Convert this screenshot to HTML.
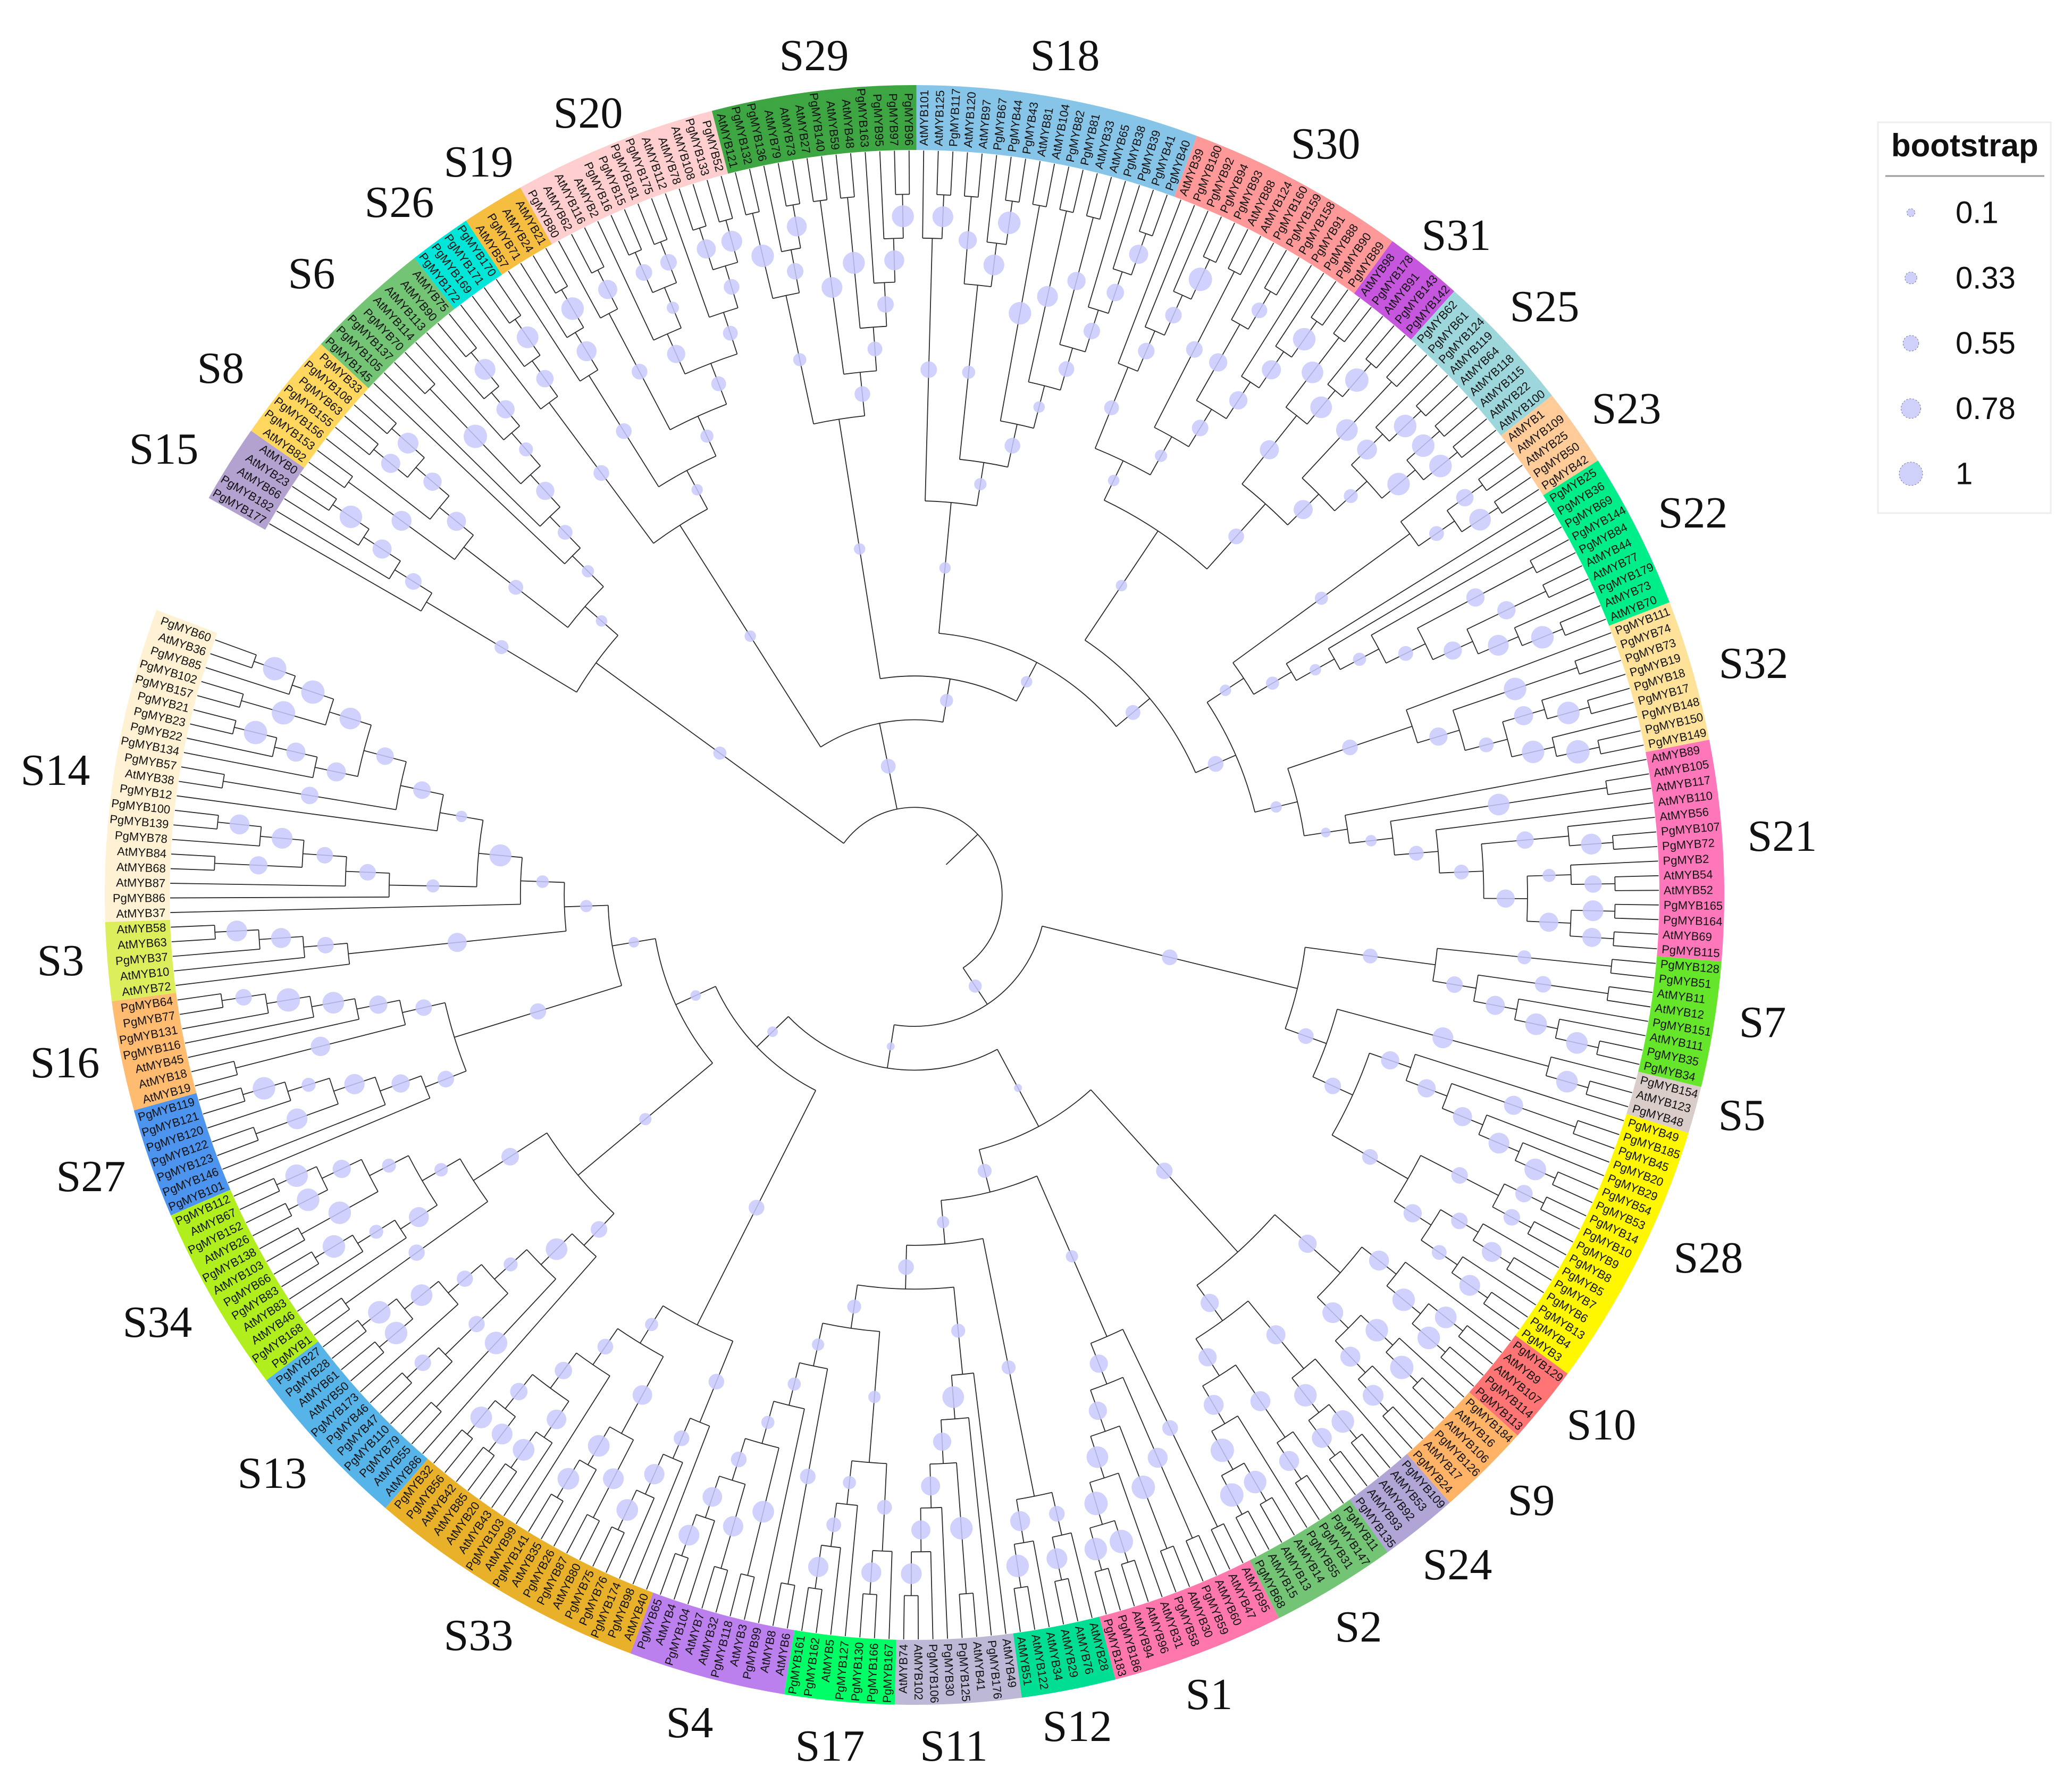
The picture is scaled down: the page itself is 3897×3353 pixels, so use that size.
<!DOCTYPE html>
<html lang="en">
<head>
<meta charset="utf-8">
<title>MYB circular phylogenetic tree</title>
<style>
html,body{margin:0;padding:0;background:#fff;}
svg{display:block;}
.tip{font-family:"Liberation Sans",sans-serif;font-size:22px;fill:#111;}
.clade{font-family:"Liberation Serif",serif;font-size:84px;fill:#111;text-anchor:middle;}
.lg{font-family:"Liberation Sans",sans-serif;font-size:58px;fill:#111;}
</style>
</head>
<body>
<svg id="chart" xmlns="http://www.w3.org/2000/svg" width="3897" height="3353" viewBox="0 0 3897 3353">
<rect x="0" y="0" width="3897" height="3353" fill="#ffffff"/>
<g id="bands"></g>
<g id="tips"></g>
<g id="branches"></g>
<g id="markers"></g>

<g>
<text class="clade" x="1531" y="132">S29</text>
<text class="clade" x="2003" y="132">S18</text>
<text class="clade" x="2493" y="298">S30</text>
<text class="clade" x="2739" y="470">S31</text>
<text class="clade" x="2905" y="604">S25</text>
<text class="clade" x="3059" y="796">S23</text>
<text class="clade" x="3184" y="992">S22</text>
<text class="clade" x="3298" y="1275">S32</text>
<text class="clade" x="3352" y="1600">S21</text>
<text class="clade" x="3315" y="1950">S7</text>
<text class="clade" x="3276" y="2125">S5</text>
<text class="clade" x="3213" y="2393">S28</text>
<text class="clade" x="3012" y="2707">S10</text>
<text class="clade" x="2880" y="2849">S9</text>
<text class="clade" x="2741" y="2970">S24</text>
<text class="clade" x="2555" y="3087">S2</text>
<text class="clade" x="2274" y="3214">S1</text>
<text class="clade" x="2026" y="3274">S12</text>
<text class="clade" x="1794" y="3311">S11</text>
<text class="clade" x="1561" y="3311">S17</text>
<text class="clade" x="1297" y="3267">S4</text>
<text class="clade" x="900" y="3103">S33</text>
<text class="clade" x="512" y="2798">S13</text>
<text class="clade" x="296" y="2514">S34</text>
<text class="clade" x="171" y="2240">S27</text>
<text class="clade" x="122" y="2026">S16</text>
<text class="clade" x="114" y="1834">S3</text>
<text class="clade" x="104" y="1476">S14</text>
<text class="clade" x="308" y="872">S15</text>
<text class="clade" x="415" y="720">S8</text>
<text class="clade" x="586" y="542">S6</text>
<text class="clade" x="751" y="408">S26</text>
<text class="clade" x="900" y="332">S19</text>
<text class="clade" x="1106" y="240">S20</text>
</g>

<g>
<rect x="3532" y="230" width="325" height="735" fill="#ffffff" stroke="#eeeeee" stroke-width="3"/>
<text x="3557" y="294" font-family="'Liberation Sans',sans-serif" font-weight="bold" font-size="60" fill="#111">bootstrap</text>
<line x1="3546" y1="331" x2="3845" y2="331" stroke="#999999" stroke-width="3"/>
<g id="legend-items"></g>
</g>
</svg>

<script>
// ---- Tree data: each internal node is [child, child, bootstrap], children in clockwise order ----
const cS15 = ['PgMYB177',['PgMYB182',['AtMYB66',['AtMYB23','AtMYB0',0.95],0.75],0.6],0.45];
const cS8 = [['AtMYB82','PgMYB153',0.8],['PgMYB156',[['PgMYB155','PgMYB63',0.75],['PgMYB108','PgMYB33',0.85],0.7],0.75],0.5];
const cS6 = ['PgMYB145',['PgMYB105',[['PgMYB137','PgMYB70',1],['AtMYB114',['AtMYB113',['AtMYB90','AtMYB75',0.85],0.7],0.45],0.7],0.5],0.35];
const cS26 = ['PgMYB172',['PgMYB169',['PgMYB171','PgMYB170',0.9],0.65],0.55];
const cS19 = ['AtMYB57',['PgMYB71',['AtMYB24','AtMYB21',0.95],0.8],0.55];
const cS20 = [['PgMYB80',['AtMYB62','AtMYB116',0.75],0.55],[['AtMYB2',[['PgMYB16','PgMYB15',0.6],['PgMYB181','PgMYB175',0.6],0.35],0.7],['AtMYB112',[['AtMYB78','AtMYB108',0.75],['PgMYB133','PgMYB52',0.85],0.55],0.5],0.5],0.4];
const cS29 = [[['AtMYB121','PgMYB132',0.95],['PgMYB136',['AtMYB79','AtMYB73',0.8],0.6],0.4],[['AtMYB27','PgMYB140',0.85],[['AtMYB59','AtMYB48',0.92],['PgMYB163',['PgMYB95',['PgMYB97','PgMYB96',0.92],0.8],0.6],0.5],0.55],0.3];
const cS18 = [['AtMYB101',['AtMYB125','PgMYB117',0.85],0.6],[[['AtMYB120','AtMYB97',0.7],['PgMYB67',['PgMYB44','PgMYB43',0.95],0.85],0.4],[['AtMYB81','AtMYB104',0.95],[['PgMYB82','PgMYB81',0.85],[['AtMYB33','AtMYB65',0.7],['PgMYB38',['PgMYB39',['PgMYB41','PgMYB40',0.75],0.65],0.6],0.55],0.3],0.55],0.35],0.3];
const cS30 = [['AtMYB39',['PgMYB180',['PgMYB92',['PgMYB94','PgMYB93',1],0.6],0.6],0.5],[['AtMYB88','AtMYB124',0.6],[['PgMYB160',['PgMYB159','PgMYB158',0.55],0.7],['PgMYB91',['PgMYB88',['PgMYB90','PgMYB89',0.95],0.75],0.7],0.6],0.35],0.3];
const cS31 = [['AtMYB98','PgMYB178',0.9],['AtMYB91',['PgMYB143','PgMYB142',1],0.9],0.75];
const cS25 = [['PgMYB62','PgMYB61',0.9],[['PgMYB124',['AtMYB119','AtMYB64',0.95],0.8],[['AtMYB118','AtMYB115',0.95],['AtMYB22','AtMYB100',0.95],0.95],0.45],0.75];
const cS23 = ['AtMYB1',[['AtMYB109','AtMYB25',0.65],['PgMYB50','PgMYB42',0.9],0.5],0.4];
const cS22 = ['PgMYB25',['PgMYB36',['PgMYB69',[['PgMYB144','PgMYB84',0.7],[['AtMYB44','AtMYB77',0.7],['PgMYB179',['AtMYB73','AtMYB70',0.95],0.85],0.7],0.5],0.4],0.3],0.4];
const cS32 = ['PgMYB111',[['PgMYB74','PgMYB73',0.95],[['PgMYB19',['PgMYB18','PgMYB17',0.95],0.75],['PgMYB148',['PgMYB150','PgMYB149',1],0.95],0.5],0.7],0.55];
const cS21 = ['AtMYB89',[['AtMYB105','AtMYB117',0.9],['AtMYB110',[['AtMYB56',['PgMYB107','PgMYB72',0.85],0.65],[['PgMYB2',['AtMYB54','AtMYB52',0.65],0.4],[['PgMYB165','PgMYB164',0.85],['AtMYB69','PgMYB115',0.75],0.75],0.7],0.5],0.5],0.3],0.2];
const cS7 = [['PgMYB128','PgMYB51',0.45],[['AtMYB11','AtMYB12',0.6],['PgMYB151',['AtMYB111',['PgMYB35','PgMYB34',0.9],0.9],0.75],0.6],0.5];
const cS5 = ['PgMYB154',['AtMYB123','PgMYB48',0.9],0.85];
const cS28 = [['PgMYB49',[['PgMYB185','PgMYB45',0.75],['PgMYB20',['PgMYB29',['PgMYB54','PgMYB53',0.9],0.85],0.75],0.7],0.7],[[['PgMYB14','PgMYB10',0.65],['PgMYB9','PgMYB8',0.6],0.6],[['PgMYB5',['PgMYB7','PgMYB6',0.8],0.6],['PgMYB13',['PgMYB4','PgMYB3',0.85],0.5],0.7],0.55],0.6];
const cS10 = ['PgMYB129',[['AtMYB9','AtMYB107',0.9],['PgMYB114','PgMYB113',0.95],0.95],0.8];
const cS9 = [['PgMYB184',['AtMYB16','AtMYB106',1],0.95],['PgMYB126',['AtMYB17','PgMYB24',0.85],0.8],0.85];
const cS24 = ['PgMYB109',[['AtMYB53','AtMYB92',0.95],['AtMYB93','PgMYB135',0.8],0.95],0.75];
const cS2 = [['PgMYB11',['PgMYB147','PgMYB31',0.8],0.8],['PgMYB55',[['AtMYB14','AtMYB13',0.95],['AtMYB15','PgMYB68',1],1],0.8],0.7];
const cS1 = [['AtMYB95','AtMYB47',0.55],[['AtMYB60','PgMYB59',0.8],[['AtMYB30','PgMYB58',1],['AtMYB31',[['AtMYB96','AtMYB94',1],['PgMYB186','PgMYB183',0.95],1],0.9],0.7],0.7],0.35];
const cS12 = [['AtMYB28',['AtMYB76','AtMYB29',0.85],0.55],['AtMYB34',['AtMYB122','AtMYB51',0.95],0.8],0.45];
const cS11 = ['AtMYB49',['PgMYB176',[['AtMYB41','PgMYB125',0.95],['PgMYB30',['PgMYB106',['AtMYB102','AtMYB74',0.85],0.75],0.75],0.7],0.9],0.45];
const cS17 = [['PgMYB167',['PgMYB166','PgMYB130',0.8],0.5],['PgMYB127',['AtMYB5',['PgMYB162','PgMYB161',0.82],0.5],0.4],0.35];
const cS4 = [['AtMYB6','AtMYB8',0.55],['PgMYB99',[['AtMYB3','PgMYB118',0.9],[['AtMYB32','AtMYB7',0.82],['PgMYB104',['AtMYB4','PgMYB65',0.85],0.78],0.55],0.4],0.4],0.35];
const cS33 = [['AtMYB40',['PgMYB98',['PgMYB174',['PgMYB76','PgMYB75',0.9],0.82],0.55],0.55],[[['AtMYB80','PgMYB87',0.85],['PgMYB26',['AtMYB35','PgMYB141',0.9],0.9],0.78],['AtMYB99',[['PgMYB103',['AtMYB43','AtMYB20',0.9],0.78],[['AtMYB85','AtMYB42',0.85],['PgMYB56','PgMYB32',0.9],0.65],0.65],0.55],0.4],0.55];
const cS13 = ['AtMYB86',[['AtMYB55','PgMYB79',0.95],[['PgMYB110',['PgMYB47','PgMYB46',0.6],0.58],['PgMYB173',[['AtMYB50','AtMYB61',0.95],['PgMYB28','PgMYB27',0.95],0.9],0.58],0.45],0.9],0.6];
const cS34 = [['PgMYB1','PgMYB168',0.58],[['AtMYB46',['AtMYB83',['PgMYB83','PgMYB66',0.95],0.45],0.8],[['AtMYB103','PgMYB138',0.95],[['AtMYB26','PgMYB152',0.95],['AtMYB67','PgMYB112',0.95],0.7],0.45],0.42],0.66];
const cS27 = ['PgMYB101',['PgMYB146',[['PgMYB123','PgMYB122',0.85],['PgMYB120',['PgMYB121','PgMYB119',0.95],0.45],0.82],0.7],0.6];
const cS16 = [['AtMYB19','AtMYB18',0.77],['AtMYB45',['PgMYB116',['PgMYB131',['PgMYB77','PgMYB64',0.6],1],0.9],0.7],0.6];
const cS3 = ['AtMYB72',['AtMYB10',['PgMYB37',['AtMYB63','AtMYB58',0.85],0.8],0.6],0.75];
const cS14 = ['AtMYB37',[['PgMYB86',['AtMYB87',[['AtMYB68','AtMYB84',0.7],['PgMYB78',['PgMYB139','PgMYB100',0.8],0.85],0.6],0.6],0.4],['PgMYB12',[['AtMYB38','PgMYB57',0.66],[['PgMYB134',['PgMYB22',['PgMYB23','PgMYB21',1],0.75],0.75],[['PgMYB157','PgMYB102',1],['PgMYB85',['AtMYB36','PgMYB60',1],1],0.9],0.66],0.66],0.3],0.92],0.37];

// Backbone groupings
const gA = [cS15,[cS8,cS6,0.3],0.4];
const gUpperRight = [[cS23,cS22,0.3],[cS32,cS21,0.3],0.55];
const gRight = [[cS30,[cS31,cS25,0.55],0.3],gUpperRight,0.5];
const gB = [[cS26,[cS19,cS20,0.3],0.3],[cS29,[cS18,gRight,0.3],0.4],0.5];
const gC1 = [cS7,[cS5,cS28,0.55],0.55];
const gLowerRight = [[cS10,cS9,0.7],[cS24,cS2,0.7],0.6];
const gBottom = [cS1,[cS12,[cS11,[cS17,cS4,0.45],0.55],0.35],0.45];
const gLeft = [[cS13,cS34,0.35],[[cS27,cS16,0.58],[cS3,cS14,0.35],0.25],0.25];
const gC = [gC1,[[gLowerRight,gBottom,0.1],[cS33,gLeft,0.25],0.1],0.4];
const treeRoot = [gA,gB,gC];

// Clade band data
const cladeNames = ['S15','S8','S6','S26','S19','S20','S29','S18','S30','S31','S25','S23','S22','S32','S21','S7','S5','S28','S10','S9','S24','S2','S1','S12','S11','S17','S4','S33','S13','S34','S27','S16','S3','S14'];
const cladeSizes = [5,7,8,4,4,13,13,18,14,5,9,5,10,9,14,8,3,17,5,6,5,8,11,6,8,7,10,18,11,12,7,7,5,20];
const cladeFills = ['#B3A2CF','#FFD75E','#74C476','#00E6D8','#F5BE41','#FFCFCF','#3DA642','#87C5E8','#FF9999','#C656DD','#9DD7DC','#FFCC99','#00EE8A','#FFE299','#FF77BB','#66E62A','#D9CCC9','#FFF700','#FF7575','#FFB366','#B0A5D5','#74C476','#FF77AD','#00DE94','#BDB8D6','#00FF66','#BB80EE','#E9B02A','#56B4E9','#B0EE1E','#4D94EE','#FFBB70','#DDEE5C','#FFF2D4'];

// Legend data
const legendValues = [0.1,0.33,0.55,0.78,1];
const legendLabels = ['0.1','0.33','0.55','0.78','1'];

// ---- Scales ----
const CX = 1720, CY = 1683;
const BAND_IN = 1401, BAND_OUT = 1523, TIP_R = 1400, LEVEL = 82.35, LABEL_R = 1409;
const START = -60.65, STEP = 1.1258;
const NS = 'http://www.w3.org/2000/svg';

function angleOfIndex(i){ return START + i * STEP; }
function radiusOfHeight(h){ return TIP_R - h * LEVEL; }
function markerRadius(v){ return 5.9 + 16.1 * v; }
function px(r, deg){ const a = deg * Math.PI / 180; return [CX + r * Math.sin(a), CY - r * Math.cos(a)]; }
function fmt(n){ return n.toFixed(2); }
function svgEl(tag, parent){ const e = document.createElementNS(NS, tag); parent.appendChild(e); return e; }
function arcPath(r, a0, a1){
  const p0 = px(r, a0), p1 = px(r, a1);
  const large = Math.abs(a1 - a0) > 180 ? 1 : 0;
  return 'M' + fmt(p0[0]) + ' ' + fmt(p0[1]) + 'A' + r.toFixed(2) + ' ' + r.toFixed(2) + ' 0 ' + large + ' 1 ' + fmt(p1[0]) + ' ' + fmt(p1[1]);
}

// ---- Layout: walk the nested arrays ----
let leafCounter = 0;
function layout(node){
  if (typeof node === 'string') {
    const theta = angleOfIndex(leafCounter + 0.5);
    leafCounter += 1;
    return {name: node, theta: theta, h: 0, kids: null, boot: null};
  }
  const kids = [];
  let boot = null;
  node.forEach(function(item){
    if (typeof item === 'number') { boot = item; } else { kids.push(layout(item)); }
  });
  const theta = (kids[0].theta + kids[kids.length - 1].theta) / 2;
  const h = 1 + Math.max.apply(null, kids.map(function(k){ return k.h; }));
  return {name: null, theta: theta, h: h, kids: kids, boot: boot};
}
const laidOut = layout(treeRoot);

// ---- Bands ----
const bandsG = document.getElementById('bands');
let cum = 0;
cladeNames.forEach(function(name, i){
  const a0 = angleOfIndex(cum), a1 = angleOfIndex(cum + cladeSizes[i]);
  cum += cladeSizes[i];
  const oa = px(BAND_OUT, a0), ob = px(BAND_OUT, a1), ib = px(BAND_IN, a1), ia = px(BAND_IN, a0);
  const d = 'M' + fmt(oa[0]) + ' ' + fmt(oa[1]) +
    'A' + BAND_OUT + ' ' + BAND_OUT + ' 0 0 1 ' + fmt(ob[0]) + ' ' + fmt(ob[1]) +
    'L' + fmt(ib[0]) + ' ' + fmt(ib[1]) +
    'A' + BAND_IN + ' ' + BAND_IN + ' 0 0 0 ' + fmt(ia[0]) + ' ' + fmt(ia[1]) + 'Z';
  const band = svgEl('path', bandsG);
  band.setAttribute('d', d);
  band.setAttribute('fill', cladeFills[i]);
  
  
});

// ---- Tree drawing ----
const branchG = document.getElementById('branches');
const markerG = document.getElementById('markers');
const tipG = document.getElementById('tips');

function drawBranch(d){
  const p = svgEl('path', branchG);
  p.setAttribute('d', d);
  p.setAttribute('fill', 'none');
  p.setAttribute('stroke', '#2a2a2a');
  p.setAttribute('stroke-width', '1.8');
  
  
}
function radial(r0, r1, deg){
  const a = px(r0, deg), b = px(r1, deg);
  return 'M' + fmt(a[0]) + ' ' + fmt(a[1]) + 'L' + fmt(b[0]) + ' ' + fmt(b[1]);
}
function drawTip(n){
  const t = svgEl('text', tipG);
  const p = px(LABEL_R, n.theta);
  const norm = ((n.theta % 360) + 360) % 360;
  const right = norm < 180;
  t.setAttribute('class', 'tip');
  t.setAttribute('x', fmt(p[0]));
  t.setAttribute('y', fmt(p[1]));
  t.setAttribute('dy', '7.5');
  t.setAttribute('text-anchor', right ? 'start' : 'end');
  t.setAttribute('transform', 'rotate(' + fmt(right ? n.theta - 90 : n.theta + 90) + ' ' + fmt(p[0]) + ' ' + fmt(p[1]) + ')');
  
  
  t.textContent = n.name;
}
function drawNode(n, parentR){
  const r = n.kids ? radiusOfHeight(n.h) : TIP_R;
  if (parentR !== null) { drawBranch(radial(parentR, r, n.theta)); }
  if (!n.kids) { drawTip(n); return; }
  drawBranch(arcPath(r, n.kids[0].theta, n.kids[n.kids.length - 1].theta));
  if (parentR !== null && n.boot !== null) {
    const m = px((r + parentR) / 2, n.theta);
    const c = svgEl('circle', markerG);
    c.setAttribute('cx', fmt(m[0]));
    c.setAttribute('cy', fmt(m[1]));
    c.setAttribute('r', fmt(markerRadius(n.boot)));
    c.setAttribute('fill', '#c8c9fb');
    c.setAttribute('fill-opacity', '0.85');
    
    
  }
  n.kids.forEach(function(k){ drawNode(k, r); });
}
drawNode(laidOut, null);
drawBranch(radial(radiusOfHeight(laidOut.h + 1), radiusOfHeight(laidOut.h), laidOut.theta));

// ---- Legend ----
const legendG = document.getElementById('legend-items');
legendValues.forEach(function(v, i){
  const cy = 400 + i * 122.75;
  const c = svgEl('circle', legendG);
  c.setAttribute('cx', '3594');
  c.setAttribute('cy', fmt(cy));
  c.setAttribute('r', fmt(markerRadius(v)));
  c.setAttribute('fill', '#d0d1fb');
  c.setAttribute('stroke', '#777799');
  c.setAttribute('stroke-width', '1');
  c.setAttribute('stroke-dasharray', '3 3');
  
  
  const t = svgEl('text', legendG);
  t.setAttribute('class', 'lg');
  t.setAttribute('x', '3678');
  t.setAttribute('y', fmt(cy + 19.5));
  
  
  t.textContent = legendLabels[i];
});
</script>
</body>
</html>
